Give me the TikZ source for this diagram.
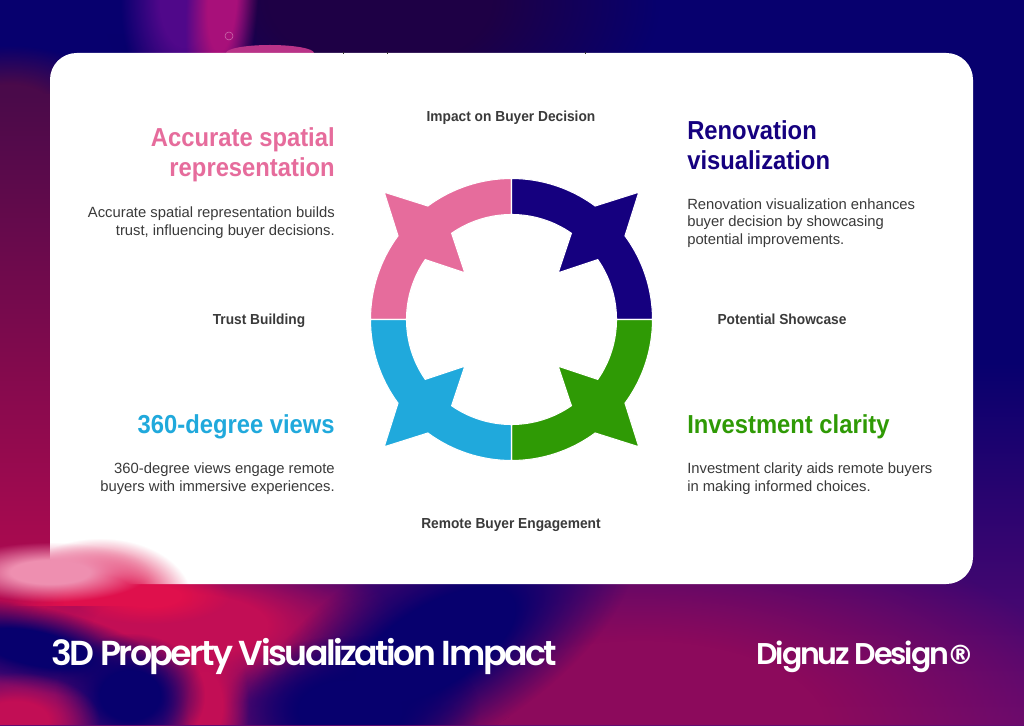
\documentclass[tikz,border=0pt]{standalone}
\usepackage{fontspec}
\setmainfont{Liberation Sans}
\newfontfamily\headfont[FakeStretch=0.915]{Liberation Sans}
\newfontfamily\labelfont[FakeStretch=0.945]{Liberation Sans}
\newfontfamily\brandfont[LetterSpace=-7.2]{Poppins SemiBold}
\newfontfamily\markfont{DejaVu Sans}
\usetikzlibrary{positioning,fadings}

\definecolor{pinkseg}{HTML}{E66C9C}
\definecolor{navyseg}{HTML}{15007F}
\definecolor{greenseg}{HTML}{2F9A05}
\definecolor{blueseg}{HTML}{20A9DC}
\definecolor{bodyink}{HTML}{3A3A3A}
\definecolor{bgnavy}{HTML}{07006E}
\definecolor{bgdark}{HTML}{1E0045}
\definecolor{bgviolet}{HTML}{50088A}
\definecolor{bgmagenta}{HTML}{A8107A}
\definecolor{bgwine}{HTML}{8C0A5C}
\definecolor{bgmaroon}{HTML}{4A0A4A}
\definecolor{bgcrimson}{HTML}{C20E55}
\definecolor{bgrose}{HTML}{B00A50}
\definecolor{bgred}{HTML}{DF104C}
\definecolor{bgpurple}{HTML}{620A72}
\definecolor{bgpale}{HTML}{EE8FB0}

% Soft patches: opaque core, transparent rim
\pgfdeclareradialshading{softshade}{\pgfpointorigin}{color(0bp)=(pgftransparent!0); color(20bp)=(pgftransparent!0);
  color(50bp)=(pgftransparent!100)}
\pgfdeclarefading{softblob}{\pgfuseshading{softshade}}

\newcommand{\patch}[6]{%
  \fill[#6, path fading=softblob, fit fading=false,
    fading transform={shift={(#1,725-#2)}, rotate=#5,
      xscale=#3*0.01494, yscale=#4*0.01494}]
    (0,0) rectangle (1024,725);}

\begin{document}
\begin{tikzpicture}[
  x=0.75pt, y=0.75pt,
  heading/.style={font=\headfont\fontsize{19.5}{22.5}\selectfont\bfseries, inner sep=0pt},
  blurb/.style={font=\fontsize{11.1}{13.1}\selectfont, text=bodyink, inner sep=0pt},
  impact/.style={font=\labelfont\fontsize{10.9}{13}\selectfont\bfseries, text=bodyink,
                 inner sep=0pt, text height=8pt, text depth=2.4pt},
  brand/.style={text=white, inner sep=0pt},
  segment/.style={draw=white, line width=0.8pt, line join=miter},
]
\useasboundingbox (0,0) rectangle (1024,725);

% Background: base wash, then soft colour patches
\begin{scope}
  \clip (0,0) rectangle (1024,725);
  \shade[bottom color=bgpurple, top color=bgnavy, middle color=bgnavy]
    (0,0) rectangle (1024,725);
  \patch{380}{0}{280}{170}{0}{bgdark}
  \patch{95}{5}{165}{65}{-12}{bgnavy}
  \patch{0}{600}{120}{60}{0}{bgrose}
  \patch{10}{110}{110}{65}{0}{bgmaroon}
  \shade[top color=bgmaroon, bottom color=bgrose] (0,140) rectangle (52,630);
  \patch{185}{0}{65}{120}{0}{bgviolet}
  \patch{222}{0}{36}{130}{-4}{bgmagenta}
  % bottom edge, right to left
  \patch{640}{725}{460}{210}{0}{bgwine}
  \patch{180}{625}{220}{80}{0}{bgcrimson}
  \patch{150}{596}{80}{28}{0}{bgred}
  \patch{435}{645}{225}{100}{31}{bgnavy}
  \patch{350}{710}{130}{75}{0}{bgnavy}
  \patch{205}{705}{44}{85}{0}{bgcrimson}
  \patch{35}{648}{135}{42}{-12}{bgnavy}
  \patch{130}{695}{75}{62}{0}{bgnavy}
  \patch{15}{720}{85}{48}{0}{bgcrimson}
  % Dome behind the card and the small bubble
  \fill[bgmagenta!80!pink] (270,672) ellipse [x radius=44, y radius=8];
  \draw[bgmagenta!60!white, line width=0.4pt, fill=bgmagenta] (229,689) circle (4);
\end{scope}

% Card
\fill[white, rounded corners=20pt] (50,141) rectangle (973,672);
\foreach \tx in {343,387,585}
  \draw[black!80, line width=0.5pt] (\tx,671) -- (\tx,673);

% Blurred patch across the lower left corner of the card
\begin{scope}
  \clip (0,120) rectangle (300,300);
  \patch{100}{600}{92}{62}{0}{bgred}
  \patch{50}{572}{100}{30}{0}{bgpale}
\end{scope}

% Ring of four arrows
\foreach \col/\ang in {pinkseg/0, navyseg/-90, greenseg/180, blueseg/90}
  \path[segment, fill=\col, shift={(511.5,405.5)}, rotate=\ang]
    (90:141) arc[start angle=90, end angle=126.4, radius=141]
    -- (135:180) -- (143.6:141)
    arc[start angle=143.6, end angle=180, radius=141]
    -- (180:105) arc[start angle=180, end angle=145.2, radius=105]
    -- (135:66) -- (124.8:105)
    arc[start angle=124.8, end angle=90, radius=105] -- cycle;

% Centre labels around the ring
\node[impact] (decision) at (511,607) {Impact on Buyer Decision};
\node[impact] (trust)    at (259,404) {Trust Building};
\node[impact] (showcase) at (782,404) {Potential Showcase};
\node[impact] (remote)   at (511,200) {Remote Buyer Engagement};

% Upper left
\node[heading, text=pinkseg, anchor=north east, align=right] (accurate) at (335,597.5)
  {Accurate spatial\\representation};
\node[blurb, align=right, below=24.5 of accurate.south east, anchor=north east] (accuratetxt)
  {Accurate spatial representation builds\\trust, influencing buyer decisions.};

% Upper right
\node[heading, text=navyseg, anchor=north west, align=left] (renovation) at (687,605)
  {Renovation\\visualization};
\node[blurb, align=left, below=28.5 of renovation.south west, anchor=north west] (renovationtxt)
  {Renovation visualization enhances\\buyer decision by showcasing\\potential improvements.};

% Lower left
\node[heading, text=blueseg, anchor=east] (views) at (335,298) {360-degree views};
\node[blurb, align=right, below=23.5 of views.south east, anchor=north east] (viewstxt)
  {360-degree views engage remote\\buyers with immersive experiences.};

% Lower right
\node[heading, text=greenseg, anchor=west] (clarity) at (687,298) {Investment clarity};
\node[blurb, align=left, below=23.5 of clarity.south west, anchor=north west] (claritytxt)
  {Investment clarity aids remote buyers\\in making informed choices.};

% Footer
\node[brand, anchor=west, font=\brandfont\fontsize{26}{30}\selectfont] (footertitle) at (51,69)
  {3D Property Visualization Impact};
\node[brand, anchor=east, font=\brandfont\fontsize{22.5}{26}\selectfont] (footerbrand) at (974,68)
  {Dignuz Design\kern-1.5pt{\markfont\bfseries\fontsize{20}{26}\selectfont ®}};
\end{tikzpicture}
\end{document}
